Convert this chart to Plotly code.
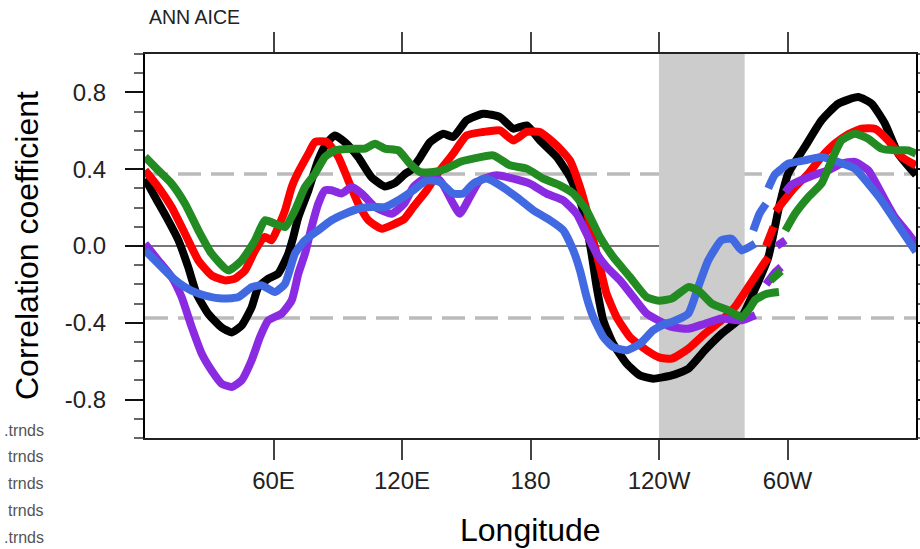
import plotly.graph_objects as go

# ---------------- data ----------------
black_lon = [0, 4.7, 10, 15.6, 20.2, 24.1, 29.6, 35.8, 40.5, 45.1, 49.8, 52.9, 57.6, 62.2, 66.9, 69.2,
             71.6, 76.3, 80.9, 84.8, 88.7, 93.4, 99.6, 105.8, 112, 117, 121.4, 124, 128.4, 133, 139.3,
             143.9, 150.2, 157.9, 165.7, 172, 178.2, 184.4, 192.2, 198.4, 203.1, 206.2, 208.5, 210.9,
             214, 218.6, 224.9, 231.1, 237.3, 245.9, 253.7, 261.4, 269.2, 278.6, 285, 291, 296, 300.3,
             308.1, 315.9, 323.7, 333, 339.3, 345.5, 351.7, 360]
black_val = [0.35, 0.255, 0.15, 0.03, -0.111, -0.249, -0.354, -0.424, -0.45, -0.415, -0.319, -0.215,
             -0.17, -0.144, -0.04, 0.045, 0.151, 0.29, 0.448, 0.535, 0.576, 0.54, 0.462, 0.358, 0.31,
             0.33, 0.375, 0.394, 0.46, 0.54, 0.585, 0.568, 0.655, 0.689, 0.672, 0.611, 0.628, 0.55,
             0.464, 0.36, 0.238, 0.099, -0.04, -0.214, -0.387, -0.509, -0.613, -0.674, -0.691, -0.674,
             -0.639, -0.543, -0.457, -0.37, -0.22, -0.06, 0.2, 0.377, 0.516, 0.655, 0.741, 0.776,
             0.741, 0.637, 0.481, 0.37]

red_lon = [0, 6.2, 12.4, 18.7, 24.9, 31.1, 37.3, 42, 46.7, 51.4, 56, 59.1, 62.2, 65.4, 68.5, 71.6,
           76.3, 79.4, 84.8, 90.3, 94.9, 99.6, 104.3, 110.5, 116.7, 121, 125.3, 131.5, 137.7, 143.9,
           150.2, 157.9, 165.7, 172, 178.2, 184.4, 192.2, 198.4, 203.1, 206.2, 209.3, 212.4, 215.5,
           220.2, 226.4, 234.2, 240, 245.9, 253.7, 261.4, 269.2, 275.4, 281.7, 287.9, 291, None,
           290, 293.5, None, 294.5, 297.2, 303.5, 309.7, 315.9, 322.1, 328, 334.6, 340.8, 347,
           353.3, 360]
red_val = [0.394, 0.307, 0.203, 0.064, -0.075, -0.153, -0.179, -0.17, -0.127, -0.023, 0.047, 0.03,
           0.099, 0.186, 0.307, 0.385, 0.481, 0.542, 0.542, 0.464, 0.342, 0.22, 0.134, 0.09, 0.116,
           0.14, 0.203, 0.29, 0.394, 0.481, 0.576, 0.594, 0.602, 0.55, 0.594, 0.594, 0.524, 0.446,
           0.307, 0.186, 0.03, -0.109, -0.248, -0.37, -0.474, -0.543, -0.58, -0.587, -0.535, -0.457,
           -0.387, -0.318, -0.214, -0.109, -0.06, None, 0.0, 0.1, None, 0.18, 0.22, 0.307, 0.377,
           0.464, 0.533, 0.58, 0.611, 0.611, 0.55, 0.464, 0.42]

green_lon = [0, 6.2, 12.4, 18.7, 24.9, 31.1, 38.9, 45.1, 51.4, 56, 60.7, 65.4, 70, 74.7, 79.4, 84,
             88.7, 96.5, 102.7, 107.4, 112, 118.3, 123.7, 128.4, 134.6, 140.8, 147, 153.3, 162.6,
             170.4, 178.2, 186, 193.7, 200, 206.2, 212.4, 218.6, 226.4, 234.2, 240, 245.9, 253.7,
             258.3, 264.6, 272.3, 278.6, 282, 285, 290, 296, None, 292, 297, None, 299, 303.5, 309.7,
             315.9, 320.6, 325.2, 331.5, 337.7, 343.9, 350.1, 356.4, 360]
green_val = [0.464, 0.394, 0.325, 0.22, 0.082, -0.04, -0.127, -0.075, 0.03, 0.134, 0.116, 0.099,
             0.186, 0.307, 0.377, 0.464, 0.498, 0.507, 0.507, 0.533, 0.507, 0.498, 0.429, 0.385,
             0.385, 0.403, 0.438, 0.455, 0.472, 0.42, 0.403, 0.351, 0.316, 0.273, 0.186, 0.047,
             -0.057, -0.161, -0.266, -0.285, -0.274, -0.214, -0.231, -0.3, -0.335, -0.37, -0.33,
             -0.28, -0.25, -0.24, None, -0.18, -0.13, None, 0.08, 0.168, 0.255, 0.325, 0.446, 0.55,
             0.585, 0.559, 0.507, 0.498, 0.498, 0.48]

purple_lon = [0, 6.2, 12.4, 17.1, 21.8, 26.5, 31.1, 35.8, 40.5, 45.1, 49.8, 53.7, 57.6, 63.8, 68.5,
              71.6, 74.7, 77.8, 80.9, 84, 87.1, 91.8, 96.5, 101.2, 107.4, 115.2, 121, 125.3, 131.5,
              137.7, 143.9, 147, 151.7, 156.4, 164.2, 172, 179.7, 187.5, 195.3, 201.5, 206.2, 210.9,
              215.5, 221.8, 228, 234.2, 240, 245.9, 253.7, 261.4, 269.2, 278.6, 285, None, 290, 294,
              297, None, 295, 299, None, 299, 302, 308, 315, 319, 325.2, 331.5, 337.7, 343.9, 350.1,
              356.4, 360]
purple_val = [0.012, -0.075, -0.161, -0.266, -0.422, -0.561, -0.648, -0.717, -0.734, -0.7, -0.595,
              -0.474, -0.387, -0.352, -0.283, -0.144, -0.04, 0.099, 0.22, 0.29, 0.29, 0.273, 0.307,
              0.273, 0.203, 0.168, 0.22, 0.307, 0.359, 0.342, 0.22, 0.168, 0.255, 0.342, 0.368, 0.351,
              0.325, 0.273, 0.238, 0.168, 0.064, -0.04, -0.109, -0.179, -0.266, -0.352, -0.39, -0.422,
              -0.431, -0.405, -0.378, -0.387, -0.36, None, -0.2, -0.14, -0.11, None, 0.0, 0.03, None,
              0.28, 0.32, 0.35, 0.38, 0.394, 0.429, 0.438, 0.394, 0.273, 0.151, 0.064, 0.01]

blue_lon = [0, 6.2, 12.4, 18.7, 24.9, 31.1, 37.3, 43.6, 49.8, 54.5, 60.7, 65.4, 70, 74.7, 80.9, 87.1,
            93.4, 99.6, 105.8, 112, 118.3, 125.3, 131.5, 137.7, 143.9, 148.6, 153.3, 159.5, 165.7,
            173.5, 181.3, 189.1, 195.3, 200, 203.1, 206.2, 209.3, 214, 218.6, 224.9, 231.1, 237.3,
            242.8, 245.9, 253.7, 258.3, 263, 269.2, 273.9, 278.6, 284.8, None, 284, 287, 290, None,
            291, 294, 297, 300.3, 308.1, 315.9, 323.7, 331.5, 337.7, 343.9, 350.1, 356.4, 360]
blue_val = [-0.023, -0.092, -0.161, -0.214, -0.248, -0.266, -0.274, -0.266, -0.214, -0.205, -0.24,
            -0.196, -0.04, 0.03, 0.082, 0.134, 0.168, 0.194, 0.203, 0.203, 0.238, 0.29, 0.342, 0.333,
            0.273, 0.273, 0.325, 0.351, 0.316, 0.255, 0.186, 0.134, 0.082, -0.023, -0.127, -0.266,
            -0.37, -0.474, -0.526, -0.543, -0.509, -0.439, -0.405, -0.396, -0.352, -0.214, -0.075,
            0.03, 0.038, -0.023, 0.012, None, 0.08, 0.17, 0.22, None, 0.3, 0.37, 0.4, 0.429, 0.446,
            0.464, 0.438, 0.403, 0.325, 0.238, 0.134, 0.03, -0.03]

series = [
    ("black", black_lon, black_val, "#000000"),
    ("red", red_lon, red_val, "#ff0000"),
    ("purple", purple_lon, purple_val, "#8a2be2"),
    ("blue", blue_lon, blue_val, "#4169e1"),
    ("green", green_lon, green_val, "#228b22"),
]

x_tickvals = [60, 120, 180, 240, 300]
x_ticktext = ["60E", "120E", "180", "120W", "60W"]
y_tickvals = [-0.8, -0.4, 0.0, 0.4, 0.8]
y_ticktext = ["-0.8", "-0.4", "0.0", "0.4", "0.8"]
y_minor = [round(-1 + 0.1 * i, 1) for i in range(21)]
sig_level = 0.375
band = (240, 280)
legend_labels = [".trnds", "trnds", "trnds", "trnds", ".trnds"]

FONT = "Liberation Sans, Arial, Helvetica, sans-serif"

fig = go.Figure()
for name, lon, val, col in series:
    fig.add_trace(go.Scatter(x=lon, y=val, mode="lines", name=name,
                             line=dict(color=col, width=8, shape="spline", smoothing=0.5),
                             connectgaps=False, showlegend=False))

# reference lines, then the shaded band on top of them (under the data)
fig.add_shape(type="line", xref="paper", x0=0, x1=1, yref="y", y0=0, y1=0,
              line=dict(color="#777777", width=2), layer="below")
for s in (sig_level, -sig_level):
    fig.add_shape(type="line", xref="paper", x0=0, x1=1, yref="y", y0=s, y1=s,
                  line=dict(color="#bbbbbb", width=3.5, dash="23px,10px"), layer="below")
fig.add_shape(type="rect", xref="x", x0=band[0], x1=band[1], yref="paper", y0=0, y1=1,
              fillcolor="#cccccc", line=dict(width=0), layer="below")

# axis titles and labels as annotations
fig.add_annotation(text="Longitude", xref="paper", yref="paper", x=0.5, y=-0.24,
                   showarrow=False, font=dict(family=FONT, size=32, color="#000"),
                   xanchor="center", yanchor="middle")
fig.add_annotation(text="Correlation coefficient", xref="paper", yref="paper",
                   x=(27 - 145) / 771, y=0.5, textangle=-90, showarrow=False,
                   font=dict(family=FONT, size=32, color="#000"),
                   xanchor="center", yanchor="middle")
fig.add_annotation(text="ANN AICE", xref="paper", yref="paper", x=(147 - 145) / 771,
                   y=(438 - 17) / 384, showarrow=False, xanchor="left", yanchor="middle",
                   font=dict(family=FONT, size=19.5, color="#222"))
for i, lab in enumerate(legend_labels):
    ypx = 430 + 26.8 * i
    fig.add_annotation(text=lab, xref="paper", yref="paper", x=(46 - 145) / 771,
                       y=(438 - ypx) / 384, showarrow=False, xanchor="right", yanchor="middle",
                       font=dict(family=FONT, size=16, color="#555"))

fig.update_layout(
    width=920, height=549,
    margin=dict(l=145, r=4, t=54, b=111, pad=0, autoexpand=False),
    paper_bgcolor="white", plot_bgcolor="white",
    font=dict(family=FONT, color="#000"),
    xaxis=dict(range=[0, 360], tickvals=x_tickvals, ticktext=x_ticktext,
               ticks="outside", ticklen=20, tickwidth=2, tickcolor="#444",
               showline=True, linecolor="#222", linewidth=2, mirror="allticks",
               showgrid=False, zeroline=False, tickfont=dict(size=24, color="#222"),
               ticklabelstandoff=0, automargin=False),
    yaxis=dict(range=[-1, 1], tickvals=y_tickvals, ticktext=y_ticktext,
               ticks="outside", ticklen=18, tickwidth=2, tickcolor="#111",
               showline=True, linecolor="#000", linewidth=2, mirror="allticks",
               showgrid=False, zeroline=False, tickfont=dict(size=24, color="#222"),
               ticklabelstandoff=14, automargin=False,
               minor=dict(tickvals=y_minor, ticks="outside", ticklen=9, tickwidth=2,
                          tickcolor="#666", showgrid=False)),
)

fig.write_html("out.html")
